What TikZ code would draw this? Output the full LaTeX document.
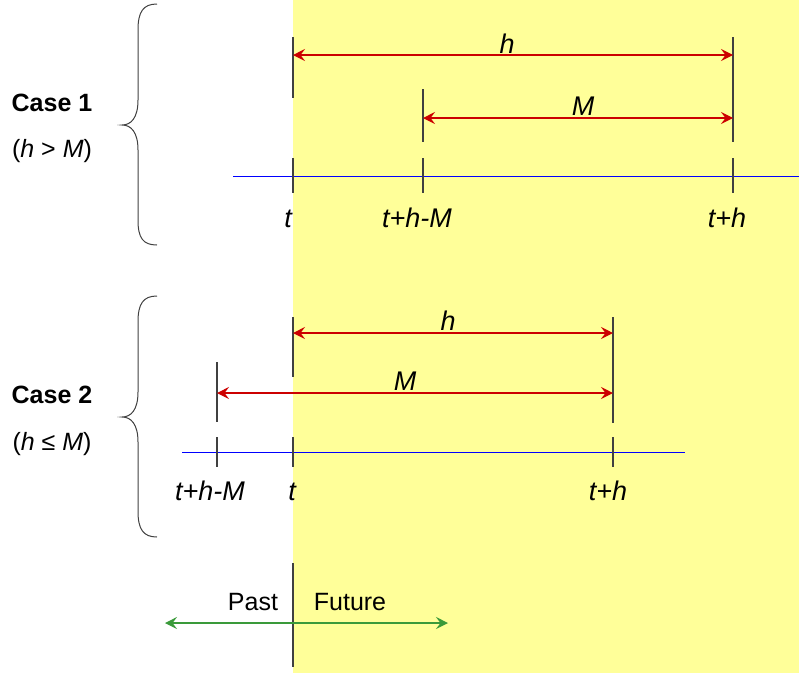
\documentclass[tikz,border=0pt]{standalone}
\usepackage{fontspec}
\setmainfont{Liberation Sans}
\usetikzlibrary{arrows.meta}
\definecolor{bgyellow}{HTML}{FFFF99}
\definecolor{arrred}{HTML}{CC0000}
\definecolor{tickgray}{HTML}{404040}
\definecolor{axisblue}{HTML}{0000FF}
\definecolor{arrgreen}{HTML}{3A9A3A}
\tikzset{
  tickline/.style={draw=tickgray, line width=1.3pt},
  axisline/.style={draw=axisblue, line width=1pt},
  spanarrow/.style={draw=arrred, line width=1.3pt, {Stealth[length=12pt,width=12pt,inset=4.5pt]}-{Stealth[length=12pt,width=12pt,inset=4.5pt]}},
  timearrow/.style={draw=arrgreen, line width=1.3pt, {Stealth[length=12pt,width=12pt,inset=4.5pt]}-{Stealth[length=12pt,width=12pt,inset=4.5pt]}},
  bracepath/.style={draw=tickgray, line width=1pt},
  lbl/.style={font=\fontsize{27}{31}\selectfont\itshape, anchor=base, inner sep=0pt},
  plain/.style={font=\fontsize{25}{29}\selectfont, anchor=base, inner sep=0pt},
  casetitle/.style={font=\fontsize{25}{29}\selectfont\bfseries, anchor=base, inner sep=0pt},
}
\begin{document}
\begin{tikzpicture}[x=1pt,y=-1pt]
\useasboundingbox (0,0) rectangle (799,673);
\fill[bgyellow] (293,0) rectangle (799,673);

% ---------- Case 1 ----------
\draw[bracepath] (157,4) .. controls (143,4) and (138,12) .. (138,30) -- (138,100)
  .. controls (138,118) and (131,125) .. (122,125)
  .. controls (131,125) and (138,132) .. (138,150) -- (138,220)
  .. controls (138,238) and (143,245) .. (157,245);
\node[casetitle] (c1title) at (52,111) {Case 1};
\node[plain] (c1cond) at (52,157) {(\textit{h} > \textit{M})};

\coordinate (a1t) at (293,37);   \coordinate (b1t) at (293,98);
\coordinate (a1m) at (423,89);   \coordinate (b1m) at (423,142);
\coordinate (a1h) at (733,37);   \coordinate (b1h) at (733,142);
\draw[tickline] (a1t) -- (b1t);
\draw[tickline] (a1m) -- (b1m);
\draw[tickline] (a1h) -- (b1h);
\coordinate (l1s) at (233,176); \coordinate (l1e) at (799,176);
\draw[axisline] (l1s) -- (l1e);
\foreach \x/\n in {293/t,423/m,733/h}{
  \coordinate (u1\n) at (\x,158); \coordinate (d1\n) at (\x,193);
  \draw[tickline] (u1\n) -- (d1\n);
}
\coordinate (h1s) at (293,55); \coordinate (h1e) at (733,55);
\draw[spanarrow] (h1s) -- (h1e);
\coordinate (m1s) at (423,118); \coordinate (m1e) at (733,118);
\draw[spanarrow] (m1s) -- (m1e);
\node[lbl] (h1lbl) at (507,53) {h};
\node[lbl] (m1lbl) at (583,115) {M};
\node[lbl] (t1lbl) at (288,227) {t};
\node[lbl] (thm1lbl) at (417,227) {t+h-M};
\node[lbl] (th1lbl) at (727,227) {t+h};

% ---------- Case 2 ----------
\draw[bracepath] (157,296) .. controls (143,296) and (138,304) .. (138,322) -- (138,392)
  .. controls (138,410) and (131,417) .. (122,417)
  .. controls (131,417) and (138,424) .. (138,442) -- (138,511)
  .. controls (138,529) and (143,537) .. (157,537);
\node[casetitle] (c2title) at (52,403) {Case 2};
\node[plain] (c2cond) at (52,450) {(\textit{h} ≤ \textit{M})};

\coordinate (a2m) at (217,362);  \coordinate (b2m) at (217,422);
\coordinate (a2t) at (293,317);  \coordinate (b2t) at (293,377);
\coordinate (a2h) at (613,317);  \coordinate (b2h) at (613,423);
\draw[tickline] (a2m) -- (b2m);
\draw[tickline] (a2t) -- (b2t);
\draw[tickline] (a2h) -- (b2h);
\coordinate (l2s) at (182,452); \coordinate (l2e) at (685,452);
\draw[axisline] (l2s) -- (l2e);
\foreach \x/\n in {217/m,293/t,613/h}{
  \coordinate (u2\n) at (\x,437); \coordinate (d2\n) at (\x,467);
  \draw[tickline] (u2\n) -- (d2\n);
}
\coordinate (h2s) at (293,333); \coordinate (h2e) at (613,333);
\draw[spanarrow] (h2s) -- (h2e);
\coordinate (m2s) at (217,393); \coordinate (m2e) at (613,393);
\draw[spanarrow] (m2s) -- (m2e);
\node[lbl] (h2lbl) at (448,330) {h};
\node[lbl] (m2lbl) at (405,390) {M};
\node[lbl] (thm2lbl) at (210,500) {t+h-M};
\node[lbl] (t2lbl) at (292,500) {t};
\node[lbl] (th2lbl) at (608,500) {t+h};

% ---------- Past / Future ----------
\coordinate (divtop) at (293,563); \coordinate (divbot) at (293,667);
\draw[tickline] (divtop) -- (divbot);
\coordinate (gs) at (165,623); \coordinate (ge) at (448,623);
\draw[timearrow] (gs) -- (ge);
\node[plain] (past) at (253,610) {Past};
\node[plain] (future) at (350,610) {Future};
\end{tikzpicture}
\end{document}
